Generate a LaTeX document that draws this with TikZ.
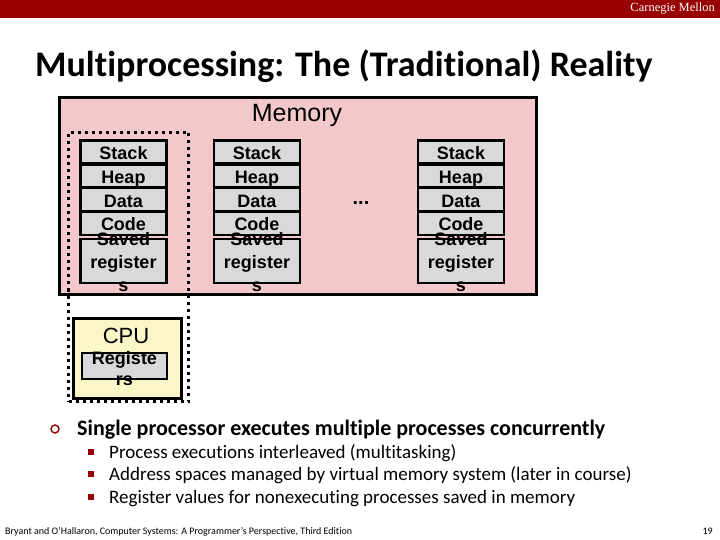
\documentclass[tikz,border=0pt]{standalone}
\usepackage{fontspec}
\setmainfont{Carlito}[Ligatures=CommonOff]
\newfontfamily\arialf{Liberation Sans}
\newfontfamily\timesf{Liberation Serif}
\definecolor{cmured}{RGB}{153,0,0}
\definecolor{mempink}{RGB}{242,200,202}
\definecolor{boxgray}{RGB}{217,217,217}
\definecolor{cpuyellow}{RGB}{250,246,200}
\begin{document}
\begin{tikzpicture}[x=1pt,y=-1pt,
  rowbox/.style={draw=black, line width=2.6pt, fill=boxgray, minimum width=86, minimum height=23.5, inner sep=0pt, font=\arialf\bfseries\fontsize{18}{20}\selectfont, text height=16pt, text depth=0.5pt},
  savedbox/.style={draw=black, line width=2.6pt, fill=boxgray, minimum width=86, minimum height=44, inner sep=0pt},
  savedtext/.style={align=center, inner sep=0pt, font=\arialf\bfseries\fontsize{18}{23}\selectfont},
  dotbox/.style={draw=black, line width=3pt, dash pattern=on 3pt off 4pt},
  subitem/.style={anchor=base west, inner sep=0pt, font=\fontsize{19}{22}\selectfont},
  sqbullet/.style={fill=cmured, minimum size=5.5pt, inner sep=0pt}
]
\useasboundingbox (0,0) rectangle (720,540);
% top bar
\node[fill=cmured, minimum width=720, minimum height=18, inner sep=0pt, anchor=north west] (bar) at (0,0) {};
\node[anchor=east, text=white, inner sep=0pt, font=\timesf\fontsize{12.5}{12.5}\selectfont] (cmu) at (715,9) {Carnegie Mellon};
% title
\node[anchor=base west, inner sep=0pt, font=\bfseries\fontsize{36}{40}\selectfont] (title) at (35,77) {Multiprocessing: The (Traditional) Reality};
% memory
\node[draw=black, line width=3pt, fill=mempink, minimum width=477, minimum height=197, inner sep=0pt, anchor=north west] (mem) at (58,96) {};
\node[inner sep=0pt, font=\arialf\fontsize{25}{28}\selectfont] (memlabel) at (297,115) {Memory};
% dotted process box
\node[dotbox, minimum width=120, minimum height=269, inner sep=0pt, anchor=north west] (proc) at (67,131) {};
% columns
\foreach \c/\x in {1/123.5, 2/257, 3/461} {
  \node[rowbox] (stack\c) at (\x,152) {Stack};
  \node[rowbox] (heap\c) at (\x,176) {Heap};
  \node[rowbox] (data\c) at (\x,199.7) {Data};
  \node[rowbox] (code\c) at (\x,223.2) {Code};
  \node[savedbox] (saved\c) at (\x,261) {};
  \node[savedtext] (savedt\c) at (\x,262) {Saved\\register\\s};
}
\node[inner sep=0pt, font=\arialf\bfseries\fontsize{20}{20}\selectfont] (dots) at (361,203) {...};
% CPU
\node[draw=black, line width=3pt, fill=cpuyellow, minimum width=108, minimum height=80, inner sep=0pt, anchor=north west] (cpu) at (72,317) {};
\node[inner sep=0pt, font=\arialf\fontsize{22}{24}\selectfont] (cpulabel) at (126,336) {CPU};
\node[draw=black, line width=2.4pt, fill=boxgray, minimum width=85, minimum height=26, inner sep=0pt] (regs) at (124.5,366) {};
\node[savedtext, font=\arialf\bfseries\fontsize{18}{21}\selectfont] (regst) at (124.5,369) {Registe\\rs};
% bullets
\node[draw=cmured, circle, line width=1.4pt, minimum size=8pt, inner sep=0pt] (b0) at (55,429) {};
\node[anchor=base west, inner sep=0pt, font=\bfseries\fontsize{22}{26}\selectfont] (t0) at (77,435) {Single processor executes multiple processes concurrently};
\node[sqbullet] (b1) at (91,452) {};
\node[subitem] (t1) at (109,458) {Process executions interleaved (multitasking)};
\node[sqbullet] (b2) at (91,474) {};
\node[subitem] (t2) at (109,480) {Address spaces managed by virtual memory system (later in course)};
\node[sqbullet] (b3) at (91,497) {};
\node[subitem] (t3) at (109,503) {Register values for nonexecuting processes saved in memory};
% footer
\node[anchor=base west, inner sep=0pt, font=\fontsize{10}{11}\selectfont] (foot) at (5,534) {Bryant and O'Hallaron, Computer Systems: A Programmer's Perspective, Third Edition};
\node[anchor=base east, inner sep=0pt, font=\fontsize{10}{11}\selectfont] (pnum) at (713,534) {19};
\end{tikzpicture}
\end{document}
